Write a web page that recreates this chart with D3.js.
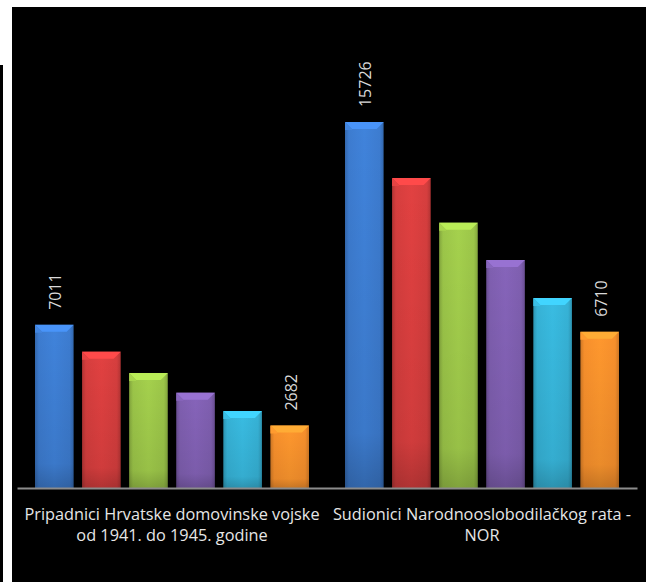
<!DOCTYPE html>
<html><head><meta charset="utf-8">
<script src="https://cdn.jsdelivr.net/npm/d3@7"></script>
<style>html,body{margin:0;padding:0;background:#fff;}svg{display:block;}</style>
</head><body>
<svg id="chart" width="652" height="582"></svg>
<script>
const categories = ["Pripadnici Hrvatske domovinske vojske od 1941. do 1945. godine", "Sudionici Narodnooslobodilačkog rata - NOR"];
const categoryLines = [["Pripadnici Hrvatske domovinske vojske", "od 1941. do 1945. godine"], ["Sudionici Narodnooslobodilačkog rata -", "NOR"]];
const seriesNames = ["S1", "S2", "S3", "S4", "S5", "S6"];
const series1 = [7011, 15726];
const series2 = [5857, 13321];
const series3 = [4942, 11400];
const series4 = [4095, 9797];
const series5 = [3309, 8164];
const series6 = [2682, 6710];
const labelledSeries = [0, 5];
const colors = ["#3d7cd0", "#d63e3e", "#9cc649", "#7f5fb0", "#36b2d6", "#f8902c"];

const seriesValues = [series1, series2, series3, series4, series5, series6];
const svg = d3.select("#chart");

// frame
svg.append("rect").attr("x", 12).attr("y", 7).attr("width", 634).attr("height", 575).attr("fill", "#000");
svg.append("rect").attr("x", 0).attr("y", 65).attr("width", 3).attr("height", 517).attr("fill", "#000");

const x0 = d3.scaleBand().domain(categories).range([17, 637]).paddingInner(0).paddingOuter(0);
const x1 = d3.scaleBand().domain(seriesNames).range([18, 292]).paddingInner(0.18).paddingOuter(0);
const y = d3.scaleLinear().domain([0, 16000]).range([488, 488 - 16000 / 42.97]);

const defs = svg.append("defs");
colors.forEach((c, i) => {
  const base = d3.color(c);
  const g = defs.append("linearGradient").attr("id", "g" + i).attr("x1", "0").attr("x2", "1").attr("y1", "0").attr("y2", "0");
  g.append("stop").attr("offset", "0").attr("stop-color", base.darker(0.5));
  g.append("stop").attr("offset", "0.1").attr("stop-color", base);
  g.append("stop").attr("offset", "0.5").attr("stop-color", base.brighter(0.15));
  g.append("stop").attr("offset", "0.9").attr("stop-color", base);
  g.append("stop").attr("offset", "1").attr("stop-color", base.darker(0.5));
  const v = defs.append("linearGradient").attr("id", "v" + i).attr("x1", "0").attr("x2", "0").attr("y1", "0").attr("y2", "1");
  v.append("stop").attr("offset", "0").attr("stop-color", "#000").attr("stop-opacity", 0);
  v.append("stop").attr("offset", "0.85").attr("stop-color", "#000").attr("stop-opacity", 0.08);
  v.append("stop").attr("offset", "1").attr("stop-color", "#000").attr("stop-opacity", 0.22);
});

const data = [];
categories.forEach((cat, ci) => {
  seriesNames.forEach((s, si) => {
    data.push({cat, ci, s, si, v: seriesValues[si][ci]});
  });
});

const bars = svg.append("g").selectAll("g").data(data).join("g")
  .attr("transform", d => `translate(${x0(d.cat) + x1(d.s)},0)`);
const bw = x1.bandwidth();
bars.append("rect").attr("x", 0).attr("y", d => y(d.v)).attr("width", bw).attr("height", d => y(0) - y(d.v))
  .attr("fill", d => `url(#g${d.si})`);
bars.append("rect").attr("x", 0).attr("y", d => y(d.v)).attr("width", bw).attr("height", d => y(0) - y(d.v))
  .attr("fill", d => `url(#v${d.si})`);
const bev = 7;
bars.append("path")
  .attr("d", d => { const t = y(d.v); return `M0,${t}L${bw},${t}L${bw - bev},${t + bev}L${bev},${t + bev}Z`; })
  .attr("fill", d => d3.color(colors[d.si]).brighter(0.5));
bars.append("path")
  .attr("d", d => { const t = y(d.v); return `M0,${t}L${bev},${t + bev}L${bev},${t+bev+1}L0,${t+bev+1}Z`; })
  .attr("fill", d => d3.color(colors[d.si]).brighter(0.2));

// axis line
const axis = svg.append("g").attr("transform", `translate(0,${y(0)})`)
  .call(d3.axisBottom(x0).tickSize(0).tickFormat(""));
axis.select(".domain").attr("stroke", "#8c8c8c").attr("stroke-width", 2);

// category labels
const cl = svg.append("g").selectAll("text").data(categories).join("text")
  .attr("x", d => x0(d) + x0.bandwidth() / 2)
  .attr("y", 520)
  .attr("text-anchor", "middle")
  .attr("fill", "#e6e6e6")
  .style("font-family", "'Open Sans', sans-serif")
  .style("font-size", "16.3px");
cl.each(function(d, i) {
  const t = d3.select(this);
  categoryLines[i].forEach((line, li) => {
    t.append("tspan").attr("x", x0(d) + x0.bandwidth() / 2).attr("dy", li === 0 ? 0 : 21).text(line);
  });
});

// data labels
svg.append("g").selectAll("text").data(data.filter(d => labelledSeries.includes(d.si))).join("text")
  .attr("transform", d => `translate(${x0(d.cat) + x1(d.s) + bw / 2 + 1},${y(d.v) - 15}) rotate(-90)`)
  .attr("text-anchor", "start")
  .attr("dominant-baseline", "central")
  .attr("fill", "#d9d9d9")
  .style("font-family", "'Open Sans', sans-serif")
  .style("font-size", "16px")
  .text(d => d.v);
</script>
</body></html>
